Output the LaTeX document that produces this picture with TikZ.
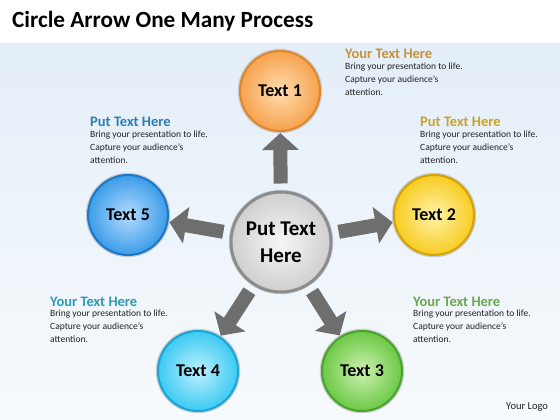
\documentclass[tikz,border=0pt]{standalone}
\usepackage{fontspec}
\setmainfont{Carlito}
\usetikzlibrary{arrows.meta,calc}
\definecolor{bgtop}{HTML}{E4EEF8}
\definecolor{bgbot}{HTML}{F7FAFD}
\definecolor{halo}{HTML}{C8CCD2}
\definecolor{orim}{HTML}{E0862A}\definecolor{olt}{HTML}{FFDDB0}\definecolor{omain}{HTML}{F6A24E}
\definecolor{yrim}{HTML}{D6A200}\definecolor{ylt}{HTML}{FFF3A8}\definecolor{ymain}{HTML}{F8CC22}
\definecolor{grim}{HTML}{48A428}\definecolor{glt}{HTML}{CDF2B0}\definecolor{gmain}{HTML}{6CC846}
\definecolor{crim}{HTML}{18A6D6}\definecolor{clt}{HTML}{BDF0FF}\definecolor{cmain}{HTML}{3DCAF2}
\definecolor{brim}{HTML}{1C78C6}\definecolor{blt}{HTML}{B4DBFF}\definecolor{bmain}{HTML}{3C9CE8}
\definecolor{krim}{HTML}{8C8C8C}\definecolor{klt}{HTML}{F6F6F6}\definecolor{kmain}{HTML}{CFCFCF}
\definecolor{arrowgray}{HTML}{6E6E6E}
\definecolor{bodytext}{HTML}{222222}
\definecolor{hor}{HTML}{C8913A}
\definecolor{hye}{HTML}{C9A227}
\definecolor{hbl}{HTML}{2A7DB5}
\definecolor{hcy}{HTML}{2C9AB7}
\definecolor{hgr}{HTML}{6AA84F}
\begin{document}
\begin{tikzpicture}[x=1pt,y=-1pt,
  bub/.style n args={3}{circle, minimum size=80pt, inner sep=0pt,
    preaction={draw=halo, line width=4.5pt},
    draw=#1, line width=2pt, inner color=#2, outer color=#3,
    font=\bfseries\fontsize{18}{20}\selectfont, text=black},
  barrow/.style={draw=arrowgray, line width=14pt,
    -{Triangle[width=36pt,length=17pt]}, shorten <=7pt, shorten >=1pt},
  headtxt/.style={font=\bfseries\fontsize{14.5}{16}\selectfont, anchor=base west, inner sep=0pt},
  bodytxt/.style={font=\fontsize{9.5}{13}\selectfont, align=left, anchor=north west, inner sep=0pt, text=bodytext}
]
\useasboundingbox (0,0) rectangle (560,420);
\fill[white] (0,0) rectangle (560,420);
\shade[top color=bgtop, bottom color=bgbot] (0,44) rectangle (560,420);

\node[anchor=base west, inner sep=0pt, font=\bfseries\fontsize{23.2}{26}\selectfont] (title) at (12,28) {Circle Arrow One Many Process};

\node[bub={krim}{klt}{kmain}, minimum size=100pt, line width=3pt,
      font=\bfseries\fontsize{21}{27}\selectfont, align=center] (c) at (281,242) {Put Text\\Here};
\node[bub={orim}{olt}{omain}] (t1) at (280,91) {Text 1};
\node[bub={yrim}{ylt}{ymain}] (t2) at (434,215) {Text 2};
\node[bub={grim}{glt}{gmain}] (t3) at (362,371) {Text 3};
\node[bub={crim}{clt}{cmain}] (t4) at (198,371) {Text 4};
\node[bub={brim}{blt}{bmain}] (t5) at (128,215) {Text 5};

\draw[barrow] (c) -- (t1);
\draw[barrow] (c) -- (t2);
\draw[barrow] (c) -- (t3);
\draw[barrow] (c) -- (t4);
\draw[barrow] (c) -- (t5);

\node[headtxt, text=hor] (h1) at (345,59) {Your Text Here};
\node[bodytxt] (b1) at ($(h1.base west)+(0,4.2)$) {Bring your presentation to life.\\Capture your audience's\\attention.};
\node[headtxt, text=hye] (h2) at (420,127) {Put Text Here};
\node[bodytxt] (b2) at ($(h2.base west)+(0,4.2)$) {Bring your presentation to life.\\Capture your audience's\\attention.};
\node[headtxt, text=hbl] (h5) at (90,127) {Put Text Here};
\node[bodytxt] (b5) at ($(h5.base west)+(0,4.2)$) {Bring your presentation to life.\\Capture your audience's\\attention.};
\node[headtxt, text=hcy] (h4) at (50,306) {Your Text Here};
\node[bodytxt] (b4) at ($(h4.base west)+(0,4.2)$) {Bring your presentation to life.\\Capture your audience's\\attention.};
\node[headtxt, text=hgr] (h3) at (413,306) {Your Text Here};
\node[bodytxt] (b3) at ($(h3.base west)+(0,4.2)$) {Bring your presentation to life.\\Capture your audience's\\attention.};

\node[anchor=base west, inner sep=0pt, font=\fontsize{10.5}{12}\selectfont, text=bodytext] (logo) at (506,409) {Your Logo};
\end{tikzpicture}
\end{document}
